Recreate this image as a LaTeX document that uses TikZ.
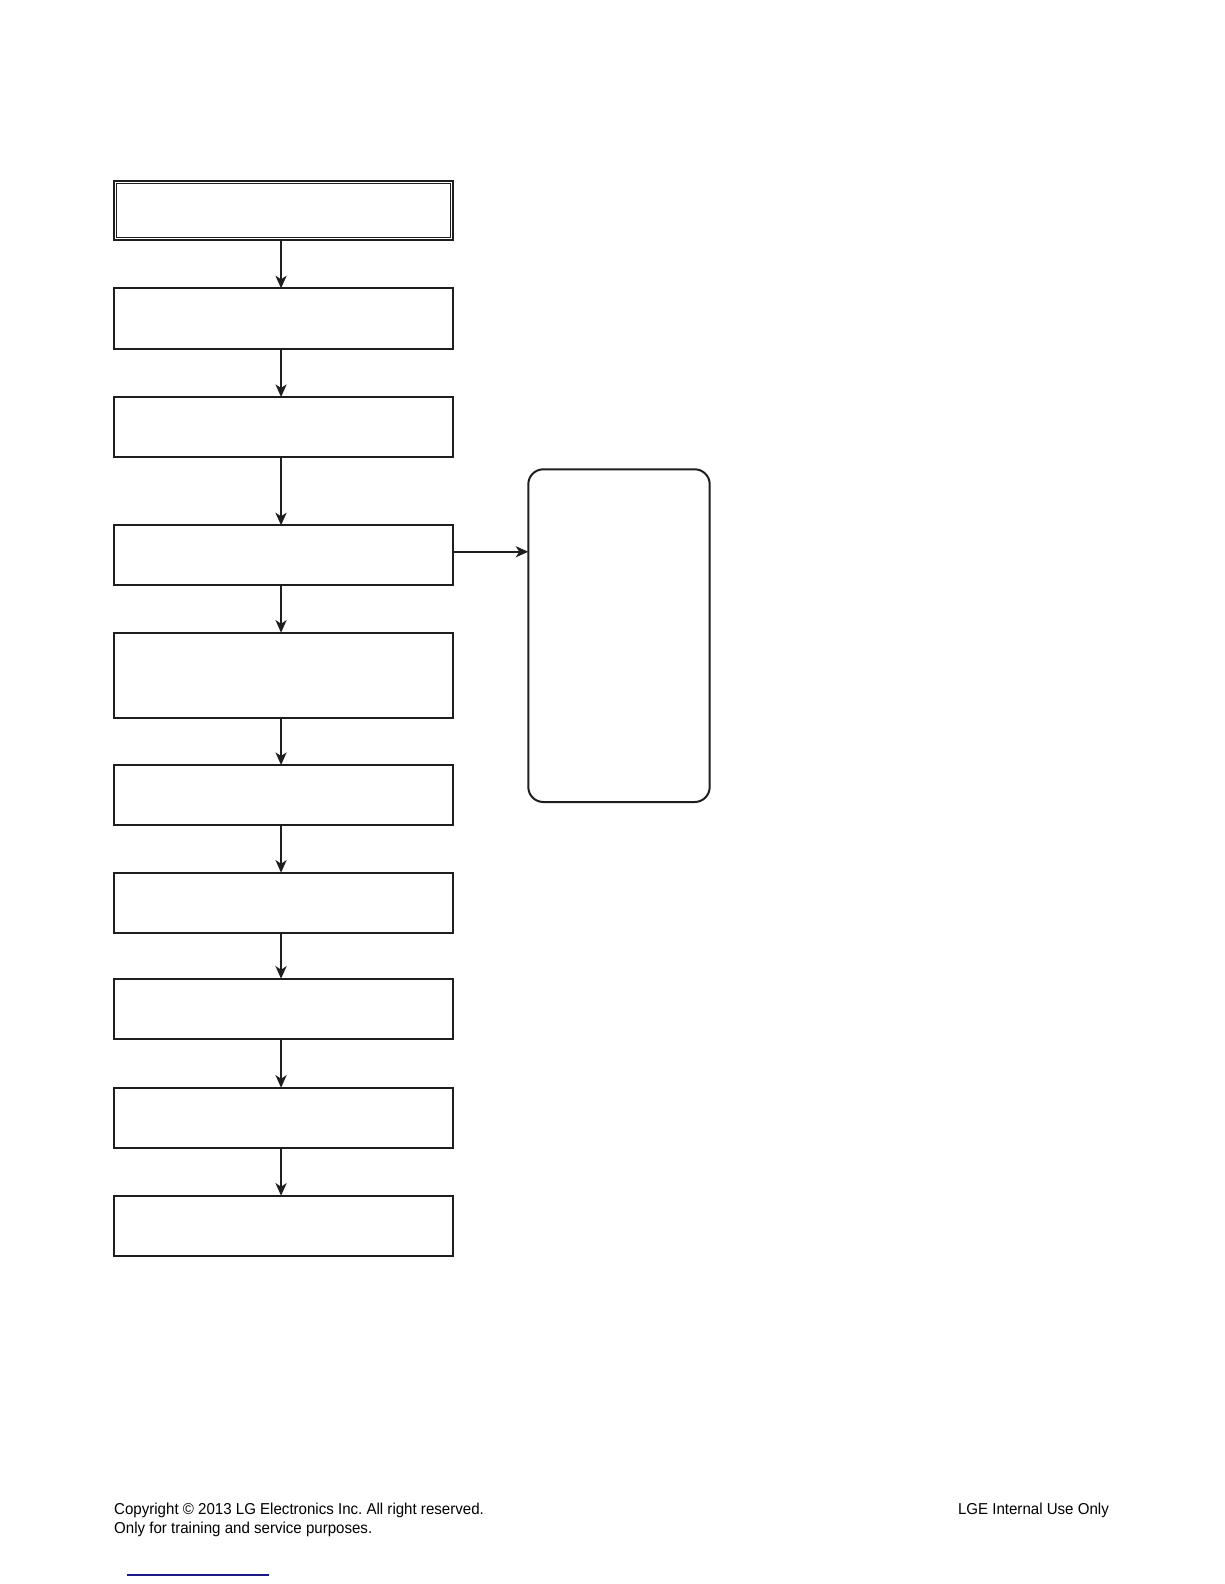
\documentclass[tikz,border=0pt]{standalone}
\usepackage{fontspec}
\setmainfont{Liberation Sans}
\newfontfamily\footfont[FakeStretch=0.954]{Liberation Sans}
\usetikzlibrary{arrows.meta}
\definecolor{inkc}{RGB}{30,30,30}
\definecolor{linkblue}{RGB}{25,25,135}
\begin{document}
\begin{tikzpicture}[x=1pt,y=-1pt,
  flowbox/.style={draw=inkc,line width=2pt,minimum width=338.5pt,inner sep=0pt,outer sep=0pt,anchor=north west},
  flowarrow/.style={draw=inkc,line width=2.2pt,-{Stealth[length=12.5pt,width=11pt,inset=3.5pt]}},
  foot/.style={font=\footfont\fontsize{15.8}{19}\selectfont\frenchspacing,inner sep=0pt,text=black}]
\useasboundingbox (0,0) rectangle (1224,1584);
\node[flowbox,minimum height=59pt,line width=1.8pt] (b1) at (114.3,181) {};
\draw[inkc,line width=1pt] (116.8,183.6) rectangle (450.3,237.6);
\node[flowbox,minimum height=60.2pt] (b2) at (114.3,288.3) {};
\node[flowbox,minimum height=59.7pt] (b3) at (114.3,397) {};
\node[flowbox,minimum height=59.7pt] (b4) at (114.3,525.3) {};
\node[flowbox,minimum height=85.3pt] (b5) at (114.3,632.7) {};
\node[flowbox,minimum height=60.3pt] (b6) at (114.3,765) {};
\node[flowbox,minimum height=60.6pt] (b7) at (114.3,872.7) {};
\node[flowbox,minimum height=60.6pt] (b8) at (114.3,978.7) {};
\node[flowbox,minimum height=60.6pt] (b9) at (114.3,1087.7) {};
\node[flowbox,minimum height=60.3pt] (b10) at (114.3,1195.7) {};
\node[draw=inkc,line width=2pt,rounded corners=15pt,minimum width=181.4pt,minimum height=332.7pt,inner sep=0pt,outer sep=0pt,anchor=north west] (r) at (528.3,469.3) {};
\foreach \a/\b in {b1/b2,b2/b3,b3/b4,b4/b5,b5/b6,b6/b7,b7/b8,b8/b9,b9/b10}{
  \draw[flowarrow] ([xshift=-2.5pt]\a.south) -- ([xshift=-2.5pt]\b.north);
}
\coordinate (s4) at ([yshift=3.4pt]b4.east);
\draw[flowarrow] (s4) -- (r.west|-s4);
\node[foot,anchor=base west] (c1) at (114,1514) {Copyright © 2013 LG Electronics Inc. All right reserved.};
\node[foot,anchor=base west] (c2) at (114,1533) {Only for training and service purposes.};
\node[foot,anchor=base east] (c3) at (1109,1514) {LGE Internal Use Only};
\coordinate (l1) at (127,1575);
\coordinate (l2) at (269,1575);
\draw[linkblue,line width=1.4pt] (l1) -- (l2);
\end{tikzpicture}
\end{document}
